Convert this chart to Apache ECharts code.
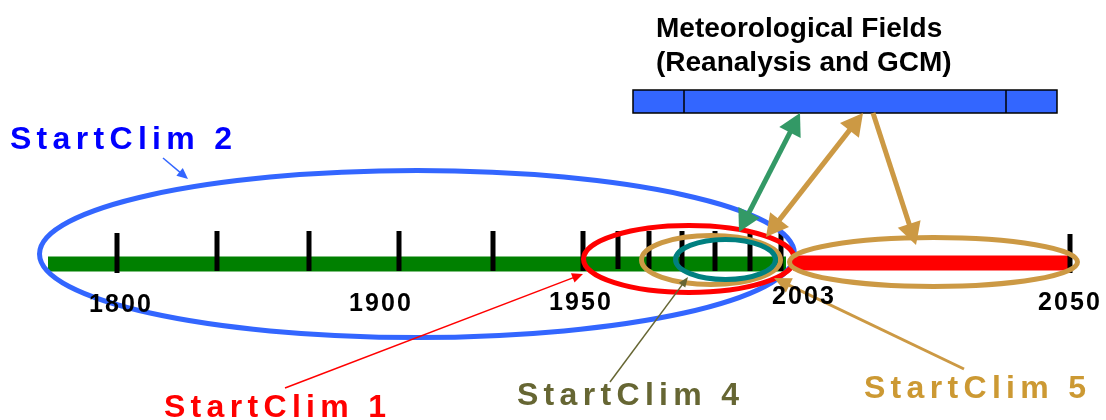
<!DOCTYPE html>
<html><head><meta charset="utf-8">
<script src="https://cdn.jsdelivr.net/npm/echarts@6/dist/echarts.min.js"></script>
<style>html,body{margin:0;padding:0;background:#fff}#c{width:1106px;height:420px}</style>
</head><body><div id="c"></div>
<script>
// Schematic timeline (diagram units on hidden axes spanning the canvas)
const yearLabels = ['1800', '1900', '1950', '2003', '2050'];
const yearLabelX = [120, 380, 580, 803, 1069];
const yearLabelY = [305, 304, 303, 297, 303];

const tickX = [117, 217, 309, 399, 493, 583, 618, 649, 682, 715, 750, 781, 1070];
const tickTop = [233, 231, 231, 231, 231, 231, 231, 231, 231, 231, 231, 231, 234];
const tickBottom = [273, 271, 271, 271, 271, 271, 269, 269, 271, 271, 271, 271, 273];

const periodStart = [48, 793];
const periodEnd = [786, 1070];
const periodY = [264, 263];
const periodColors = ['#008000', '#ff0000'];

const ellipseCx = [417, 689, 711, 725.5, 933.5];
const ellipseCy = [254, 259, 260, 259.5, 262];
const ellipseRx = [377.5, 105.5, 69.5, 50, 144];
const ellipseRy = [83.5, 33.5, 24.5, 20, 24.5];
const ellipseColors = ['#3366ff', '#ff0000', '#cc9944', '#008080', '#cc9944'];

const boxX = [633, 1057];
const boxY = [90, 113];
const boxDividers = [684, 1006];

const arrowX1 = [800, 863, 873, 163, 285, 610, 964];
const arrowY1 = [113, 113, 113, 158, 388, 382, 369];
const arrowX2 = [739, 766, 916, 188, 583, 688, 774];
const arrowY2 = [232, 237, 245, 179, 274, 277, 278];
const arrowWidth = [5, 5, 5, 1.5, 1.5, 1.5, 3];
const arrowBoth = [true, true, false, false, false, false, false];
const arrowHeadLen = [22, 22, 22, 11, 11, 10, 17];
const arrowHeadHalf = [12, 12, 12, 5, 5, 4, 8];
const arrowColors = ['#339966', '#cc9944', '#cc9944', '#3366ff', '#ff0000', '#666633', '#cc9944'];

const titleLines = ['Meteorological Fields', '(Reanalysis and GCM)'];
const titleX = [656, 656];
const titleY = [29, 63];

const labelTexts = ['StartClim 2', 'StartClim 1', 'StartClim 4', 'StartClim 5'];
const labelX = [121, 275, 628, 975];
const labelY = [140, 408, 396, 389];
const labelColors = ['#0000ff', '#ff0000', '#666633', '#cc9933'];

const FONT = '"Liberation Sans", Arial, sans-serif';
const spaced = (s, sp) => s.split('').join(sp);

const chart = echarts.init(document.getElementById('c'));

function xyPx(api, x, y) { return api.coord([x, y]); }

const series = [];

// period bars
series.push({
  type: 'custom', z: 1,
  data: periodStart.map((s, i) => [s, periodEnd[i], periodY[i], i]),
  renderItem: (p, api) => {
    const a = xyPx(api, api.value(0), api.value(2));
    const b = xyPx(api, api.value(1), api.value(2));
    return { type: 'line', shape: { x1: a[0], y1: a[1], x2: b[0], y2: b[1] },
      style: { stroke: periodColors[api.value(3)], lineWidth: 15 } };
  }
});
// ticks
series.push({
  type: 'custom', z: 2,
  data: tickX.map((x, i) => [x, tickTop[i], tickBottom[i]]),
  renderItem: (p, api) => {
    const a = xyPx(api, api.value(0), api.value(1));
    const b = xyPx(api, api.value(0), api.value(2));
    return { type: 'line', shape: { x1: a[0], y1: a[1], x2: b[0], y2: b[1] },
      style: { stroke: '#000', lineWidth: 5 } };
  }
});
// ellipses
series.push({
  type: 'custom', z: 3,
  data: ellipseCx.map((x, i) => [x, ellipseCy[i], ellipseRx[i], ellipseRy[i], i]),
  renderItem: (p, api) => {
    const c = xyPx(api, api.value(0), api.value(1));
    const s = api.size([api.value(2), api.value(3)]);
    return { type: 'ellipse', shape: { cx: c[0], cy: c[1], rx: Math.abs(s[0]), ry: Math.abs(s[1]) },
      style: { fill: 'none', stroke: ellipseColors[api.value(4)], lineWidth: 5 } };
  }
});
// box
series.push({
  type: 'custom', z: 4,
  data: [[boxX[0], boxY[0], boxX[1], boxY[1]]],
  renderItem: (p, api) => {
    const a = xyPx(api, api.value(0), api.value(1));
    const b = xyPx(api, api.value(2), api.value(3));
    const children = [{ type: 'rect', shape: { x: a[0], y: a[1], width: b[0] - a[0], height: b[1] - a[1] },
      style: { fill: '#3366ff', stroke: '#000', lineWidth: 1.5 } }];
    boxDividers.forEach(d => {
      const t = xyPx(api, d, boxY[0]), u = xyPx(api, d, boxY[1]);
      children.push({ type: 'line', shape: { x1: t[0], y1: t[1], x2: u[0], y2: u[1] },
        style: { stroke: '#000', lineWidth: 1.5 } });
    });
    return { type: 'group', children };
  }
});
// arrows
function head(tip, from, len, half) {
  const dx = tip[0] - from[0], dy = tip[1] - from[1];
  const L = Math.hypot(dx, dy), ux = dx / L, uy = dy / L;
  const bx = tip[0] - ux * len, by = tip[1] - uy * len;
  return [[tip[0], tip[1]], [bx - uy * half, by + ux * half], [bx + uy * half, by - ux * half]];
}
series.push({
  type: 'custom', z: 5,
  data: arrowX1.map((x, i) => [x, arrowY1[i], arrowX2[i], arrowY2[i], i]),
  renderItem: (p, api) => {
    const i = api.value(4);
    const a = xyPx(api, api.value(0), api.value(1));
    const b = xyPx(api, api.value(2), api.value(3));
    const col = arrowColors[i], len = arrowHeadLen[i], half = arrowHeadHalf[i];
    const dx = b[0] - a[0], dy = b[1] - a[1], L = Math.hypot(dx, dy);
    const ux = dx / L, uy = dy / L;
    const s = arrowBoth[i] ? [a[0] + ux * len * 0.8, a[1] + uy * len * 0.8] : a;
    const e = [b[0] - ux * len * 0.8, b[1] - uy * len * 0.8];
    const children = [
      { type: 'line', shape: { x1: s[0], y1: s[1], x2: e[0], y2: e[1] }, style: { stroke: col, lineWidth: arrowWidth[i] } },
      { type: 'polygon', shape: { points: head(b, a, len, half) }, style: { fill: col } }
    ];
    if (arrowBoth[i]) children.push({ type: 'polygon', shape: { points: head(a, b, len, half) }, style: { fill: col } });
    return { type: 'group', children };
  }
});
// year labels
series.push({
  type: 'custom', z: 6,
  data: yearLabelX.map((x, i) => [x, yearLabelY[i], i]),
  renderItem: (p, api) => {
    const c = xyPx(api, api.value(0), api.value(1));
    return { type: 'text', style: { text: spaced(yearLabels[api.value(2)], '\u200A'), x: c[0], y: c[1],
      fill: '#000', font: 'bold 25px ' + FONT, align: 'center', verticalAlign: 'middle' } };
  }
});
// title
series.push({
  type: 'custom', z: 6,
  data: titleX.map((x, i) => [x, titleY[i], i]),
  renderItem: (p, api) => {
    const c = xyPx(api, api.value(0), api.value(1));
    return { type: 'text', style: { text: titleLines[api.value(2)], x: c[0], y: c[1],
      fill: '#000', font: 'bold 28px ' + FONT, align: 'left', verticalAlign: 'middle' } };
  }
});
// StartClim labels
series.push({
  type: 'custom', z: 6,
  data: labelX.map((x, i) => [x, labelY[i], i]),
  renderItem: (p, api) => {
    const i = api.value(2);
    const c = xyPx(api, api.value(0), api.value(1));
    return { type: 'text', style: { text: spaced(labelTexts[i], '\u2006'), x: c[0], y: c[1],
      fill: labelColors[i], font: 'bold 32px ' + FONT, align: 'center', verticalAlign: 'middle' } };
  }
});

chart.setOption({
  animation: false,
  grid: { left: 0, right: 0, top: 0, bottom: 0 },
  xAxis: { type: 'value', min: 0, max: 1106, show: false },
  yAxis: { type: 'value', min: 0, max: 420, inverse: true, show: false },
  series
});
</script></body></html>
